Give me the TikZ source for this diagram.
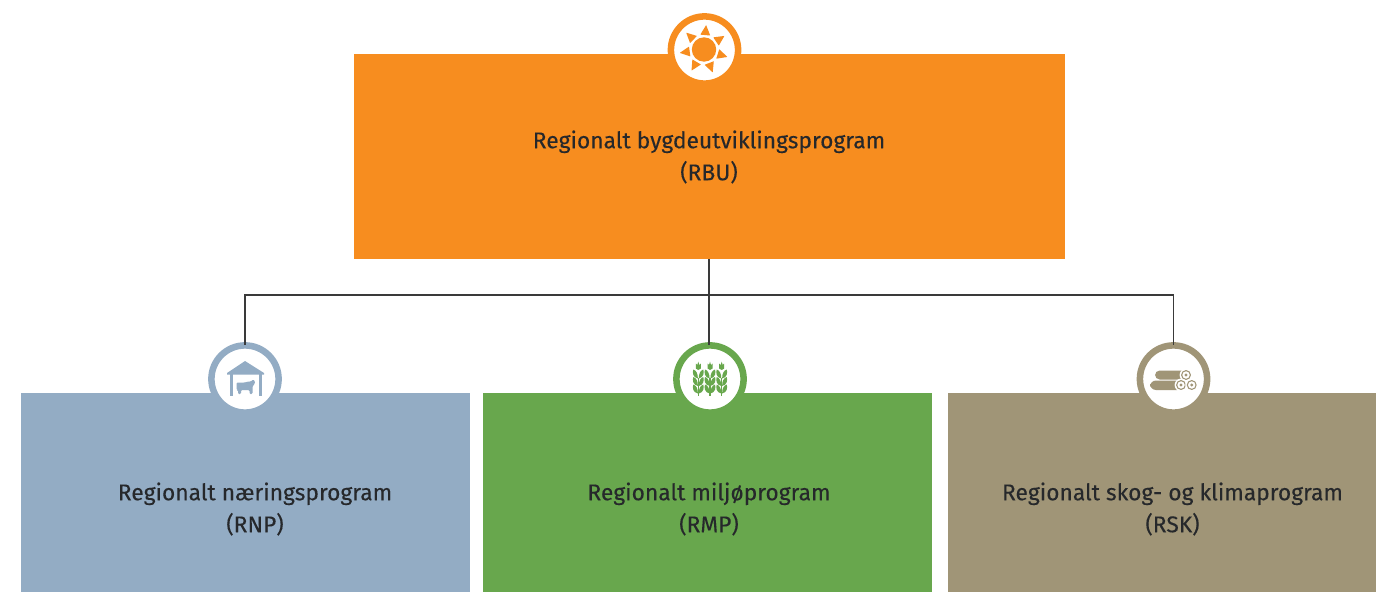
\documentclass[tikz,border=0pt]{standalone}
\usepackage{fontspec}
\setmainfont{Fira Sans}
\newfontfamily\lblfont{Fira Sans}[FakeBold=0.12]
\definecolor{cOrange}{HTML}{F78D1F}
\definecolor{cBlue}{HTML}{93ACC4}
\definecolor{cGreen}{HTML}{68A74D}
\definecolor{cTaupe}{HTML}{A09577}
\definecolor{cInk}{HTML}{26282B}
\definecolor{cLine}{HTML}{3A3A3A}
\tikzset{
  box/.style={rectangle,inner sep=0pt,outer sep=0pt,anchor=north west},
  ring/.style={circle,fill=white,draw=#1,line width=4.9pt,minimum size=50.4pt,inner sep=0pt,outer sep=0pt},
  label text/.style={text=cInk,align=center,font=\lblfont\fontsize{17.1pt}{24pt}\selectfont,inner sep=0pt},
  connector/.style={draw=cLine,line width=0.85pt}
}
\begin{document}
\begin{tikzpicture}[x=0.75pt,y=-0.75pt]
\useasboundingbox (0,0) rectangle (1376,592);
% boxes
\node[box,fill=cOrange,minimum width=533.25pt,minimum height=153.75pt] (rbu) at (354,54) {};
\node[box,fill=cBlue,minimum width=336.75pt,minimum height=149.25pt] (rnp) at (21,393) {};
\node[box,fill=cGreen,minimum width=336.75pt,minimum height=149.25pt] (rmp) at (483,393) {};
\node[box,fill=cTaupe,minimum width=321pt,minimum height=149.25pt] (rsk) at (948,393) {};
% icon rings
\node[ring=cOrange] (rbuicon) at (704.5,50) {};
\node[ring=cBlue] (rnpicon) at (245,379) {};
\node[ring=cGreen] (rmpicon) at (710,379) {};
\node[ring=cTaupe] (rskicon) at (1173.5,379) {};
% connectors
\coordinate (bus) at (709,295);
\draw[connector] (rbu.south -| bus) -- (bus);
\draw[connector] (bus) -- (rmpicon.north -| bus);
\draw[connector] (bus) -| (rnpicon.north);
\draw[connector] (bus) -| (rskicon.north);
% sun
\begin{scope}[shift={(704,49.5)}]
\fill[cOrange] (0,0) circle[radius=12.2];
\foreach \a in {-85,-33.6,17.8,69.2,120.6,172,223.4}{
  \fill[cOrange,rounded corners=0.3pt] (\a-19:15.3) -- (\a:24.5) -- (\a+19:15.3) -- cycle;
}
\end{scope}
% barn
\fill[cBlue] (227,373) -- (245,361) -- (264,373) -- (264,374.5) -- (227,374.5) -- cycle;
\fill[cBlue] (229.5,374) rectangle (232.5,396);
\fill[cBlue] (258.5,374) rectangle (261.5,396);
\fill[cBlue,rounded corners=0.8pt] (236.5,382.5) -- (245,382.5) -- (248,381.5) -- (251,381.5) -- (253,379.5) -- (255,381) -- (254.5,384.5) -- (252.5,386) -- (252.5,394) -- (249.5,394) -- (249.5,390) -- (241,390) -- (241,394) -- (238,394) -- (238,390) -- (236.5,390) -- cycle;
% wheat
\foreach \x in {698.3,710,721.7}{
  \fill[cGreen] (\x-0.6,378) rectangle (\x+0.6,395.7);
  \fill[cGreen] (\x-2.5,368.5) -- (\x-2.5,363.5) -- (\x-1,365) -- (\x,361.7) -- (\x+1,365) -- (\x+2.5,363.5) -- (\x+2.5,368.5) -- (\x,370) -- cycle;
  \foreach \y in {369.5,377,384.5}{
    \fill[cGreen] (\x-0.4,\y+9) .. controls (\x-5.5,\y+8) and (\x-6,\y+3) .. (\x-5,\y) .. controls (\x-2,\y+1) and (\x-0.5,\y+4) .. cycle;
    \fill[cGreen] (\x+0.4,\y+9) .. controls (\x+5.5,\y+8) and (\x+6,\y+3) .. (\x+5,\y) .. controls (\x+2,\y+1) and (\x+0.5,\y+4) .. cycle;
  }
}
% logs
\fill[cTaupe,rounded corners=3.5pt] (1155,370.5) rectangle (1187,379.5);
\fill[cTaupe,rounded corners=4.5pt] (1150,380.5) rectangle (1183,390);
\foreach \cx/\cy in {1186/375,1181/385,1191.7/385}{
  \fill[white] (\cx,\cy) circle[radius=6.4];
  \draw[cTaupe,line width=0.8pt] (\cx,\cy) circle[radius=4.4];
  \fill[cTaupe] (\cx,\cy) circle[radius=1.7];
}
% texts
\node[label text] (t0) at (709,157) {Regionalt bygdeutviklingsprogram\\(RBU)};
\node[label text] (t1) at (255,509) {Regionalt næringsprogram\\(RNP)};
\node[label text] (t2) at (709,509) {Regionalt miljøprogram\\(RMP)};
\node[label text] (t3) at (1172.5,509) {Regionalt skog- og klimaprogram\\(RSK)};
\end{tikzpicture}
\end{document}
